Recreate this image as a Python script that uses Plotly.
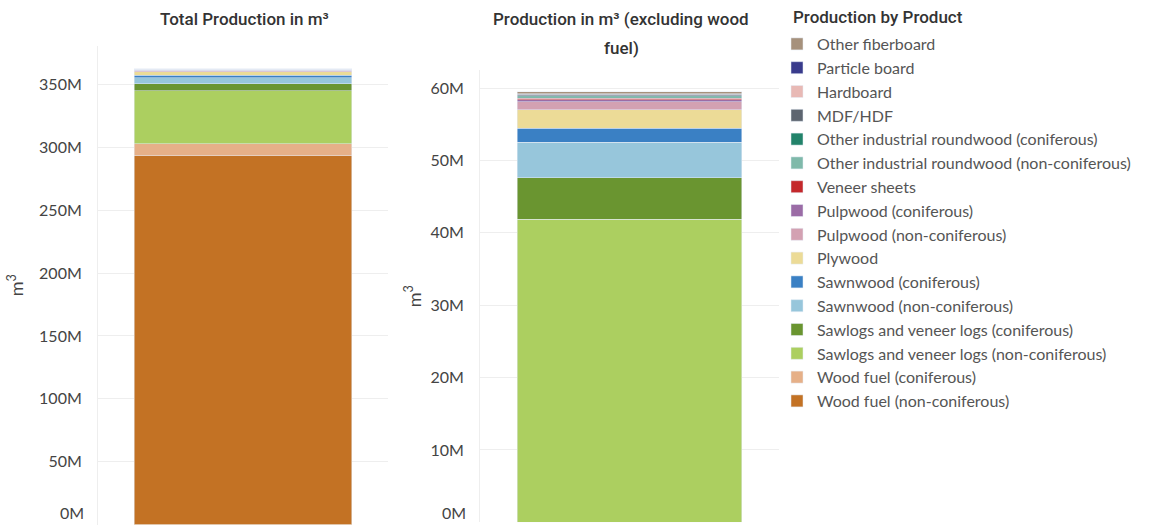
import plotly.graph_objects as go

# Products, bottom of stack first
products = [
    "Wood fuel (non-coniferous)",
    "Wood fuel (coniferous)",
    "Sawlogs and veneer logs (non-coniferous)",
    "Sawlogs and veneer logs (coniferous)",
    "Sawnwood (non-coniferous)",
    "Sawnwood (coniferous)",
    "Plywood",
    "Pulpwood (non-coniferous)",
    "Pulpwood (coniferous)",
    "Veneer sheets",
    "Other industrial roundwood (non-coniferous)",
    "Other industrial roundwood (coniferous)",
    "MDF/HDF",
    "Hardboard",
    "Particle board",
    "Other fiberboard",
]
# production in m3
production = [
    293.5e6, 9.5e6, 41.9e6, 5.7e6, 4.93e6, 1.93e6, 2.54e6, 1.14e6,
    0.25e6, 0.2e6, 0.2e6, 0.15e6, 0.2e6, 0.05e6, 0.05e6, 0.28e6,
]
colors = [
    "#c37224", "#e6b088", "#accf60", "#6a9530", "#97c6db", "#3a80c4",
    "#ecdb97", "#d3a1b2", "#9b6ca6", "#c4282b", "#7fb9aa", "#22836a",
    "#5d6570", "#e8b9b5", "#393b8c", "#a6917c",
]
wood_fuel = {"Wood fuel (non-coniferous)", "Wood fuel (coniferous)"}

left_ticks = [0, 50e6, 100e6, 150e6, 200e6, 250e6, 300e6, 350e6]
left_labels = ["0M", "50M", "100M", "150M", "200M", "250M", "300M", "350M"]
right_ticks = [0, 10e6, 20e6, 30e6, 40e6, 50e6, 60e6]
right_labels = ["0M", "10M", "20M", "30M", "40M", "50M", "60M"]

FONT = "Lato, Open Sans, sans-serif"
TITLE_FONT = "Roboto, sans-serif"

fig = go.Figure()
for name, val, col in zip(products, production, colors):
    fig.add_trace(go.Bar(x=["Total"], y=[val], name=name, marker_color=col,
                         xaxis="x", yaxis="y", showlegend=True))
for name, val, col in zip(products, production, colors):
    if name in wood_fuel:
        continue
    fig.add_trace(go.Bar(x=["Excl"], y=[val], name=name, marker_color=col,
                         xaxis="x2", yaxis="y2", showlegend=False))

W, H = 1149, 525
def fx(px):
    return px / W
def fy(py):
    return 1 - py / H

tot = sum(production)
excl = sum(v for n, v in zip(products, production) if n not in wood_fuel)
left_range = [0, tot * 1.05]
right_range = [0, excl * 1.05]

tick_font = dict(family=FONT, size=16, color="#444")
axis_common = dict(showgrid=True, gridcolor="#eeeeee", gridwidth=1,
                   zeroline=False, showline=True, linecolor="#eeeeee",
                   ticks="", tickfont=tick_font,
                   automargin=False, ticklabelstandoff=12)

L_DOM = [fy(524.5), fy(46)]
R_DOM = [fy(522.3), fy(70)]
L_X = [fx(98), fx(388)]
R_X = [fx(480), fx(779)]

title_font = dict(family=TITLE_FONT, size=17, color="#333", weight=500)

fig.update_layout(
    width=W, height=H,
    margin=dict(l=0, r=0, t=0, b=0),
    paper_bgcolor="white", plot_bgcolor="white",
    barmode="stack", bargap=0.25,
    font=dict(family=FONT, color="#444"),
    xaxis=dict(domain=L_X, showticklabels=False, showgrid=False,
               showline=True, linecolor="#eeeeee", zeroline=False, automargin=False),
    xaxis2=dict(domain=R_X, showticklabels=False, showgrid=False,
                showline=True, linecolor="#eeeeee", zeroline=False, automargin=False),
    yaxis=dict(domain=L_DOM, range=left_range,
               tickvals=left_ticks[1:], ticktext=left_labels[1:],
               title=dict(text="m<sup>3</sup>", font=dict(family=FONT, size=18, color="#444"),
                          standoff=10),
               anchor="x", **axis_common),
    yaxis2=dict(domain=R_DOM, range=right_range,
                tickvals=right_ticks[1:], ticktext=right_labels[1:],
                title=dict(text="m<sup>3</sup>", font=dict(family=FONT, size=18, color="#444"),
                           standoff=4),
                anchor="x2", **axis_common),
    legend=dict(x=fx(777), y=fy(27), xanchor="left", yanchor="top",
                traceorder="reversed",
                font=dict(family=FONT, size=16, color="#555"),
                itemwidth=30, bgcolor="rgba(0,0,0,0)"),
    annotations=[
        dict(text="Total Production in m³", x=fx(244), y=fy(19), xref="paper", yref="paper",
             showarrow=False, xanchor="center", yanchor="middle", font=title_font),
        dict(text="Production in m³ (excluding wood", x=fx(621), y=fy(19),
             xref="paper", yref="paper", showarrow=False, xanchor="center", yanchor="middle",
             font=title_font),
        dict(text="fuel)", x=fx(621), y=fy(48),
             xref="paper", yref="paper", showarrow=False, xanchor="center", yanchor="middle",
             font=title_font),
        dict(text="Production by Product", x=fx(791), y=fy(17), xref="paper", yref="paper",
             showarrow=False, xanchor="left", yanchor="middle", font=title_font),
        # bottom tick labels, lifted so they stay inside the page
        dict(text=left_labels[0], x=L_X[0], y=left_ticks[0], xref="paper", yref="y",
             xshift=-12, yshift=12, showarrow=False, xanchor="right", yanchor="middle",
             font=tick_font),
        dict(text=right_labels[0], x=R_X[0], y=right_ticks[0], xref="paper", yref="y2",
             xshift=-12, yshift=10, showarrow=False, xanchor="right", yanchor="middle",
             font=tick_font),
    ],
)

fig.write_html("out.html",
               config={"displayModeBar": False},
               post_script="document.body.style.margin='0';document.body.style.padding='0';")
